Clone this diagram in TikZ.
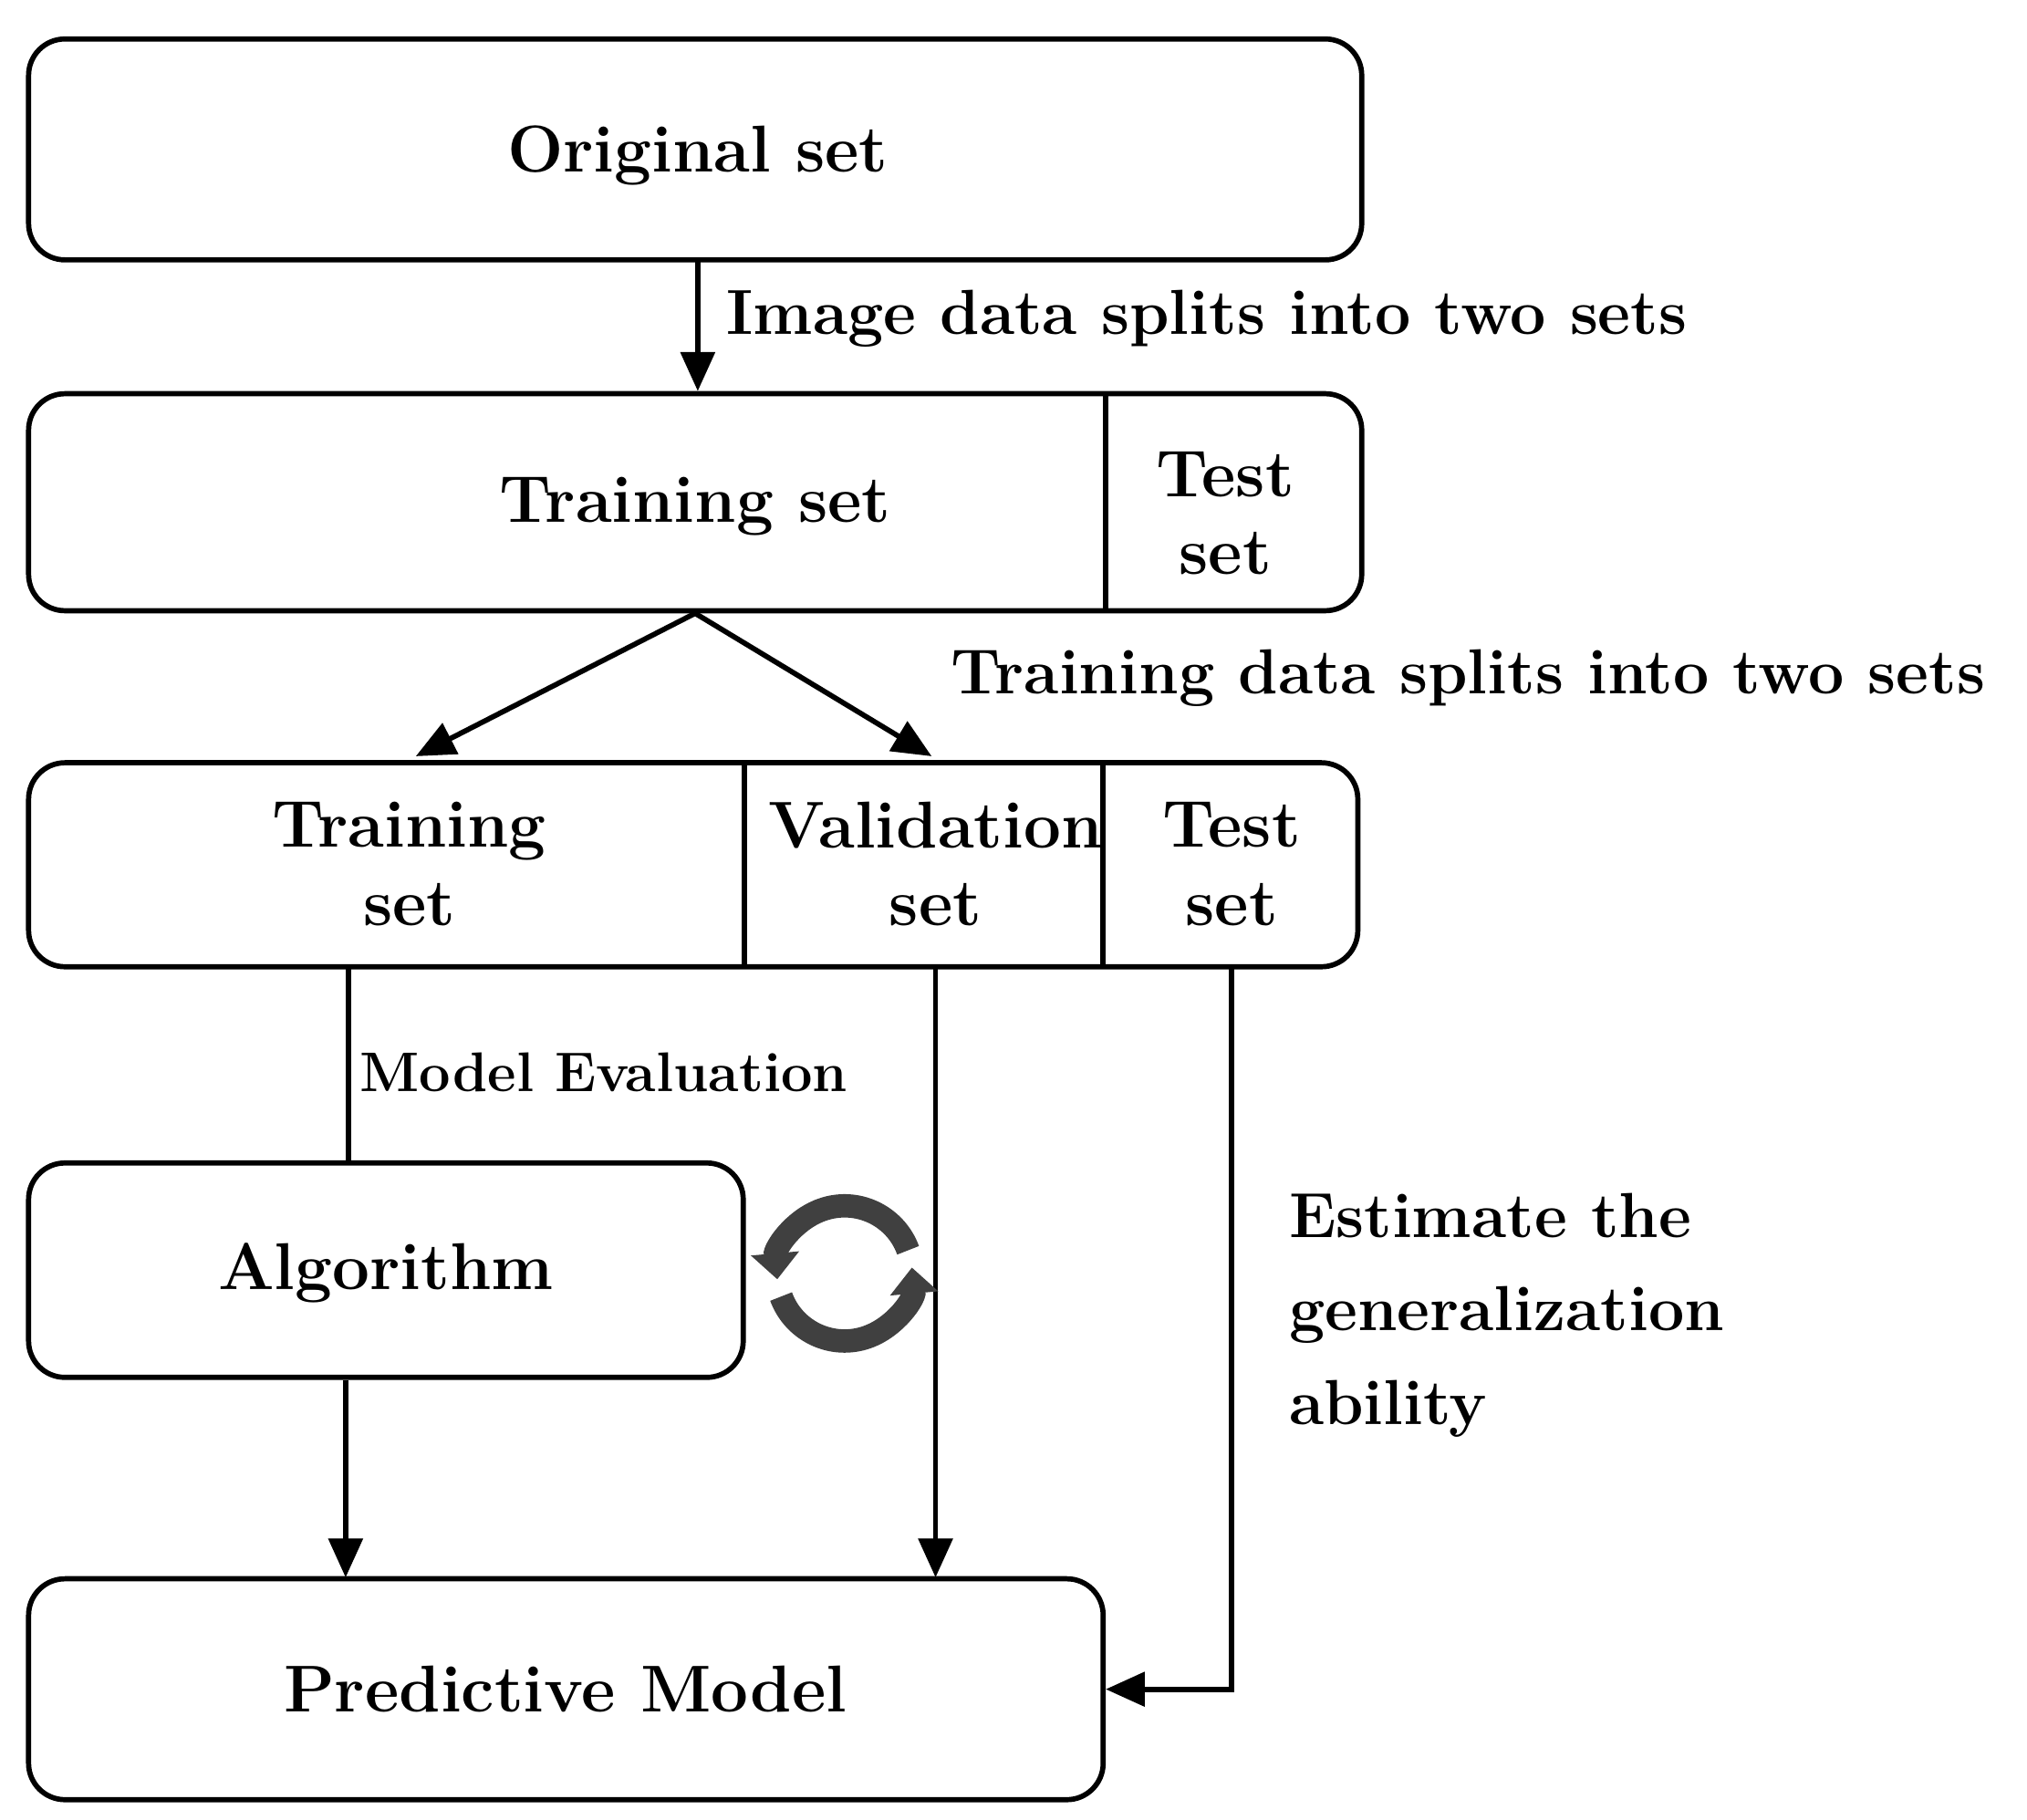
\documentclass[tikz,border=0pt]{standalone}
\usetikzlibrary{arrows.meta}
\begin{document}
\begin{tikzpicture}[x=0.5pt,y=-0.5pt,
  box/.style={draw,line width=2pt,rounded corners=14pt},
  lbl/.style={font=\fontsize{25.5}{30}\selectfont\bfseries,align=center},
  side/.style={font=\fontsize{24.5}{36}\selectfont\bfseries,align=left,anchor=west},
  arr/.style={line width=2pt,-{Triangle[length=15pt,width=13pt]}},
  ln/.style={line width=2pt}]
\useasboundingbox (0,0) rectangle (1560,1400);
% boxes
\draw[box] (22,30) rectangle (1048,200);
\node[lbl] (orig) at (537,120) {Original set};
\draw[box] (22,303) rectangle (1048,470);
\draw[ln] (851,303) -- (851,470);
\node[lbl] (tr1) at (535,390) {Training set};
\node[lbl] (te1) at (943,395) {Test\\set};
\draw[box] (22,587) rectangle (1045,744);
\draw[ln] (573,587) -- (573,744);
\draw[ln] (849,587) -- (849,744);
\node[lbl] (tr2) at (315,665) {Training\\set};
\node[lbl] (va2) at (720,665) {Validation\\set};
\node[lbl] (te2) at (948,665) {Test\\set};
\draw[box] (22,895) rectangle (572,1060);
\node[lbl] (alg) at (297,980) {Algorithm};
\draw[box] (22,1215) rectangle (849,1385);
\node[lbl] (pm) at (435,1300) {Predictive Model};
% coordinates
\coordinate (a1) at (537,200); \coordinate (a2) at (537,301);
\coordinate (b0) at (535,472); \coordinate (b1) at (320,582); \coordinate (b2) at (717,582);
\coordinate (c0) at (268,744); \coordinate (c1) at (268,893);
\coordinate (d0) at (266,1062); \coordinate (d1) at (266,1214);
\coordinate (e0) at (720,744); \coordinate (e1) at (720,1214);
\coordinate (f0) at (948,744); \coordinate (f1) at (948,1300); \coordinate (f2) at (851,1300);
\draw[arr] (a1) -- (a2);
\draw[arr] (b0) -- (b1);
\draw[arr] (b0) -- (b2);
\draw[ln] (c0) -- (c1);
\draw[arr] (d0) -- (d1);
\draw[arr] (e0) -- (e1);
\draw[arr] (f0) -- (f1) -- (f2);
% labels
\node[side] (l1) at (552,245) {Image data splits into two sets};
\node[side] (l2) at (725,522) {Training data splits into two sets};
\node[side,font=\fontsize{21.5}{26}\selectfont\bfseries] (l3) at (270,825) {Model Evaluation};
\node[side] (l4) at (985,1012) {Estimate the\\generalization\\ability};
% cycle icon
\coordinate (cy) at (650,980);
\draw[line width=9pt,black!75,-{Triangle[length=10pt,width=18pt]}] (cy) ++(160:52) arc[start angle=160,end angle=-5,radius=52];
\draw[line width=9pt,black!75,-{Triangle[length=10pt,width=18pt]}] (cy) ++(-20:52) arc[start angle=-20,end angle=-185,radius=52];
\end{tikzpicture}
\end{document}
